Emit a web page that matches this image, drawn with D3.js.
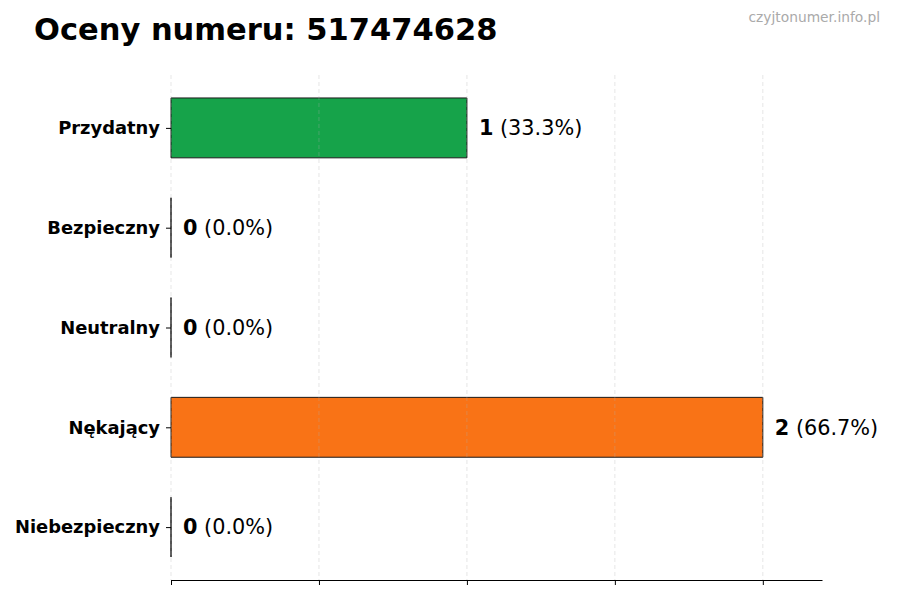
<!DOCTYPE html>
<html>
<head>
<meta charset="utf-8">
<title>Oceny numeru</title>
<style>
body { margin: 0; background: #fff; }
svg { font-family: "DejaVu Sans", sans-serif; }
.yAxis text { font-family: "DejaVu Sans", sans-serif; font-weight: bold; font-size: 17.9px; fill: #000; }
.yAxis path { display: none; }
.xAxis text { display: none; }
</style>
<script src="https://d3js.org/d3.v7.min.js"></script>
</head>
<body>
<svg width="900" height="600"></svg>
<script>

var categories = ['Przydatny', 'Bezpieczny', 'Neutralny', 'Nękający', 'Niebezpieczny'];
var counts = [1, 0, 0, 2, 0];
var colors = ['#16a34a', '#22c55e', '#9ca3af', '#f97316', '#dc2626'];
var xTicks = [0, 0.5, 1, 1.5, 2];

var total = d3.sum(counts);
var data = categories.map(function(c, i) {
  return {name: c, value: counts[i], idx: i, color: colors[i]};
});

var margin = ({top: 75, right: 78, bottom: 20, left: 171});
var width = 900, height = 600;

var x = d3.scaleLinear()
  .domain([0, 2.2])
  .range([margin.left, width - margin.right]);

// matplotlib barh: categories top to bottom, bar height 0.6, 5% margins
var y = d3.scaleLinear()
  .domain([-0.53, 4.53])
  .range([margin.top, height - margin.bottom]);

var barH = y(0.3) - y(-0.3);

var svg = d3.select('svg');

svg.append('rect').attr('width', width).attr('height', height).attr('fill', '#fff');

// bars as closed paths so zero-width bars still show their edge
svg.append('g')
  .selectAll('path')
  .data(data)
  .join('path')
  .attr('d', function(d) {
    var p = d3.path();
    var y0 = y(d.idx) - barH / 2, x0 = x(0), x1 = x(d.value);
    p.moveTo(x0, y0);
    p.lineTo(x1, y0);
    p.lineTo(x1, y0 + barH);
    p.lineTo(x0, y0 + barH);
    p.closePath();
    return p.toString();
  })
  .attr('fill', d => d.color)
  .attr('stroke', '#1a1a1a')
  .attr('stroke-width', 1);

// grid on top, faint dashed
svg.append('g')
  .selectAll('line')
  .data(xTicks)
  .join('line')
  .attr('x1', d => x(d)).attr('x2', d => x(d))
  .attr('y1', margin.top).attr('y2', height - margin.bottom)
  .attr('stroke', '#b0b0b0')
  .attr('stroke-opacity', 0.4)
  .attr('stroke-dasharray', '4,3')
  .attr('stroke-width', 0.8);

// x axis (bottom spine + ticks only)
svg.append('g')
  .attr('class', 'xAxis')
  .attr('transform', `translate(0,${height - margin.bottom})`)
  .call(d3.axisBottom(x).tickValues(xTicks).tickSize(5).tickSizeOuter(0))
  .call(g => g.select('.domain').attr('stroke-width', 1.2))
  .call(g => g.selectAll('.tick line').attr('stroke-width', 1));

// y axis ticks and labels
svg.append('g')
  .attr('class', 'yAxis')
  .attr('transform', `translate(${margin.left},0)`)
  .call(d3.axisLeft(y).tickValues(d3.range(categories.length)).tickFormat(i => categories[i]).tickSize(5).tickPadding(6));

// value labels
var lab = svg.append('g')
  .selectAll('text')
  .data(data)
  .join('text')
  .attr('x', d => x(d.value) + 12)
  .attr('y', d => y(d.idx))
  .attr('dy', '0.35em')
  .attr('font-size', '20.8px')
  .attr('fill', '#000');

lab.append('tspan').attr('font-weight', 'bold').text(d => d.value);
lab.append('tspan').text(d => ' (' + (d.value / total * 100).toFixed(1) + '%)');

// title
svg.append('text')
  .attr('x', 34)
  .attr('y', 40)
  .attr('font-size', '30.5px')
  .attr('font-weight', 'bold')
  .attr('fill', '#000')
  .text('Oceny numeru: 517474628');

// watermark
svg.append('text')
  .attr('x', 880)
  .attr('y', 22)
  .attr('text-anchor', 'end')
  .attr('font-size', '13.8px')
  .attr('fill', '#aaaaaa')
  .text('czyjtonumer.info.pl');

</script>
</body>
</html>
